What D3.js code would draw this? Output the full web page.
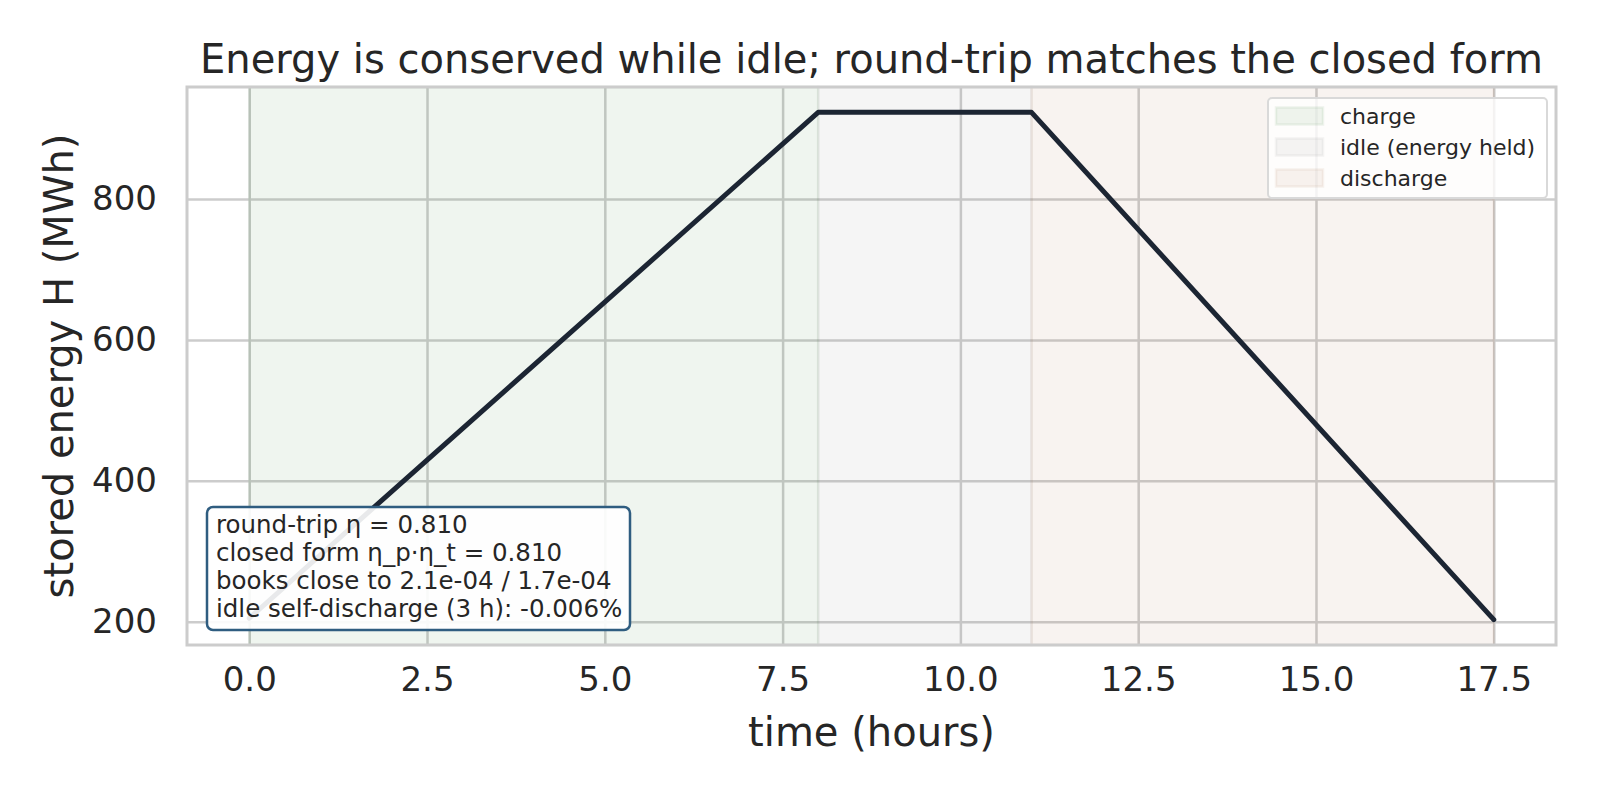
<!DOCTYPE html>
<html>
<head>
<meta charset="utf-8">
<script src="https://cdn.jsdelivr.net/npm/d3@7"></script>
<style>
  html, body { margin: 0; padding: 0; background: #ffffff; }
  svg { display: block; }
  text { font-family: "DejaVu Sans", sans-serif; fill: #262626; }
</style>
</head>
<body>
<svg id="chart" width="1600" height="800"></svg>
<script>
// ---- data ----
const times = [0, 8, 11, 17.5];
const energy = [205, 923, 923, 203];
const phaseNames = ["charge", "idle (energy held)", "discharge"];
const phaseStart = [0, 8, 11];
const phaseEnd = [8, 11, 17.5];
const phaseColors = ["#2e7d32", "#7f7f7f", "#a86a3a"];
const xTicks = [0, 2.5, 5, 7.5, 10, 12.5, 15, 17.5];
const yTicks = [200, 400, 600, 800];
const noteLines = [
  "round-trip \u03b7 = 0.810",
  "closed form \u03b7_p\u00b7\u03b7_t = 0.810",
  "books close to 2.1e-04 / 1.7e-04",
  "idle self-discharge (3 h): -0.006%"
];
const titleText = "Energy is conserved while idle; round-trip matches the closed form";
const xLabel = "time (hours)";
const yLabel = "stored energy H (MWh)";

// ---- layout ----
const W = 1600, H = 800;
const m = { left: 187, top: 87, right: 44, bottom: 155 };
const svg = d3.select("#chart");
svg.append("rect").attr("width", W).attr("height", H).attr("fill", "#ffffff");

const xMin = d3.min(times), xMax = d3.max(times);
const yMin = d3.min(energy), yMax = d3.max(energy);
const xPad = (xMax - xMin) * 0.05, yPad = (yMax - yMin) * 0.05;
const x = d3.scaleLinear().domain([xMin - xPad, xMax + xPad]).range([m.left, W - m.right]);
const y = d3.scaleLinear().domain([yMin - yPad, yMax + yPad]).range([H - m.bottom, m.top]);

const gridColor = "#cccccc";
const plot = svg.append("g");

// grid via axes
const gx = plot.append("g")
  .attr("transform", `translate(0,${H - m.bottom})`)
  .call(d3.axisBottom(x).tickValues(xTicks).tickSize(-(H - m.top - m.bottom)).tickFormat(d3.format(".1f")).tickPadding(22));
const gy = plot.append("g")
  .attr("transform", `translate(${m.left},0)`)
  .call(d3.axisLeft(y).tickValues(yTicks).tickSize(-(W - m.left - m.right)).tickFormat(d3.format("d")).tickPadding(30));
[gx, gy].forEach(g => {
  g.select(".domain").remove();
  g.selectAll(".tick line").attr("stroke", gridColor).attr("stroke-width", 2.5);
  g.selectAll(".tick text").attr("fill", "#262626").style("font-size", "34px").style("font-family", "DejaVu Sans");
});
gx.selectAll(".tick text").attr("dy", "0.71em");

// phase spans
plot.selectAll("rect.span").data(phaseNames).enter().append("rect")
  .attr("class", "span")
  .attr("x", (d, i) => x(phaseStart[i]))
  .attr("width", (d, i) => x(phaseEnd[i]) - x(phaseStart[i]))
  .attr("y", m.top)
  .attr("height", H - m.top - m.bottom)
  .attr("fill", (d, i) => phaseColors[i])
  .attr("fill-opacity", 0.08)
  .attr("stroke", (d, i) => phaseColors[i])
  .attr("stroke-opacity", 0.08)
  .attr("stroke-width", 2.5);

// line
const line = d3.line().x((d, i) => x(times[i])).y(d => y(d));
plot.append("path").datum(energy)
  .attr("d", line)
  .attr("fill", "none")
  .attr("stroke", "#1c2533")
  .attr("stroke-width", 5)
  .attr("stroke-linejoin", "round")
  .attr("stroke-linecap", "round");

// frame
svg.append("rect")
  .attr("x", m.left).attr("y", m.top)
  .attr("width", W - m.left - m.right).attr("height", H - m.top - m.bottom)
  .attr("fill", "none").attr("stroke", gridColor).attr("stroke-width", 3);

// title and labels
svg.append("text").attr("x", (m.left + W - m.right) / 2).attr("y", 73)
  .attr("text-anchor", "middle").style("font-size", "40px").text(titleText);
svg.append("text").attr("x", (m.left + W - m.right) / 2).attr("y", 746)
  .attr("text-anchor", "middle").style("font-size", "40px").text(xLabel);
svg.append("text")
  .attr("transform", `translate(73,${(m.top + H - m.bottom) / 2}) rotate(-90)`)
  .attr("text-anchor", "middle").style("font-size", "40px").text(yLabel);

// legend
const lg = svg.append("g");
lg.append("rect").attr("x", 1268).attr("y", 98).attr("width", 279).attr("height", 100)
  .attr("rx", 4).attr("fill", "#ffffff").attr("fill-opacity", 0.8)
  .attr("stroke", "#d9d9d9").attr("stroke-width", 2);
const items = lg.selectAll("g.item").data(phaseNames).enter().append("g")
  .attr("transform", (d, i) => `translate(1276,${116 + i * 31})`);
items.append("rect").attr("x", 0).attr("y", -8.5).attr("width", 47).attr("height", 17)
  .attr("fill", (d, i) => phaseColors[i]).attr("fill-opacity", 0.08)
  .attr("stroke", (d, i) => phaseColors[i]).attr("stroke-opacity", 0.08).attr("stroke-width", 2.5);
items.append("text").attr("x", 64).attr("y", 0).attr("dy", "0.35em")
  .style("font-size", "22px").text(d => d);

// annotation box
const ab = svg.append("g");
ab.append("rect").attr("x", 207).attr("y", 507).attr("width", 423).attr("height", 123)
  .attr("rx", 6).attr("fill", "#ffffff").attr("fill-opacity", 0.9)
  .attr("stroke", "#2f5d80").attr("stroke-width", 2.5);
ab.selectAll("text").data(noteLines).enter().append("text")
  .attr("x", 216).attr("y", (d, i) => 533 + i * 28)
  .style("font-size", "24.5px").text(d => d);
</script>
</body>
</html>
